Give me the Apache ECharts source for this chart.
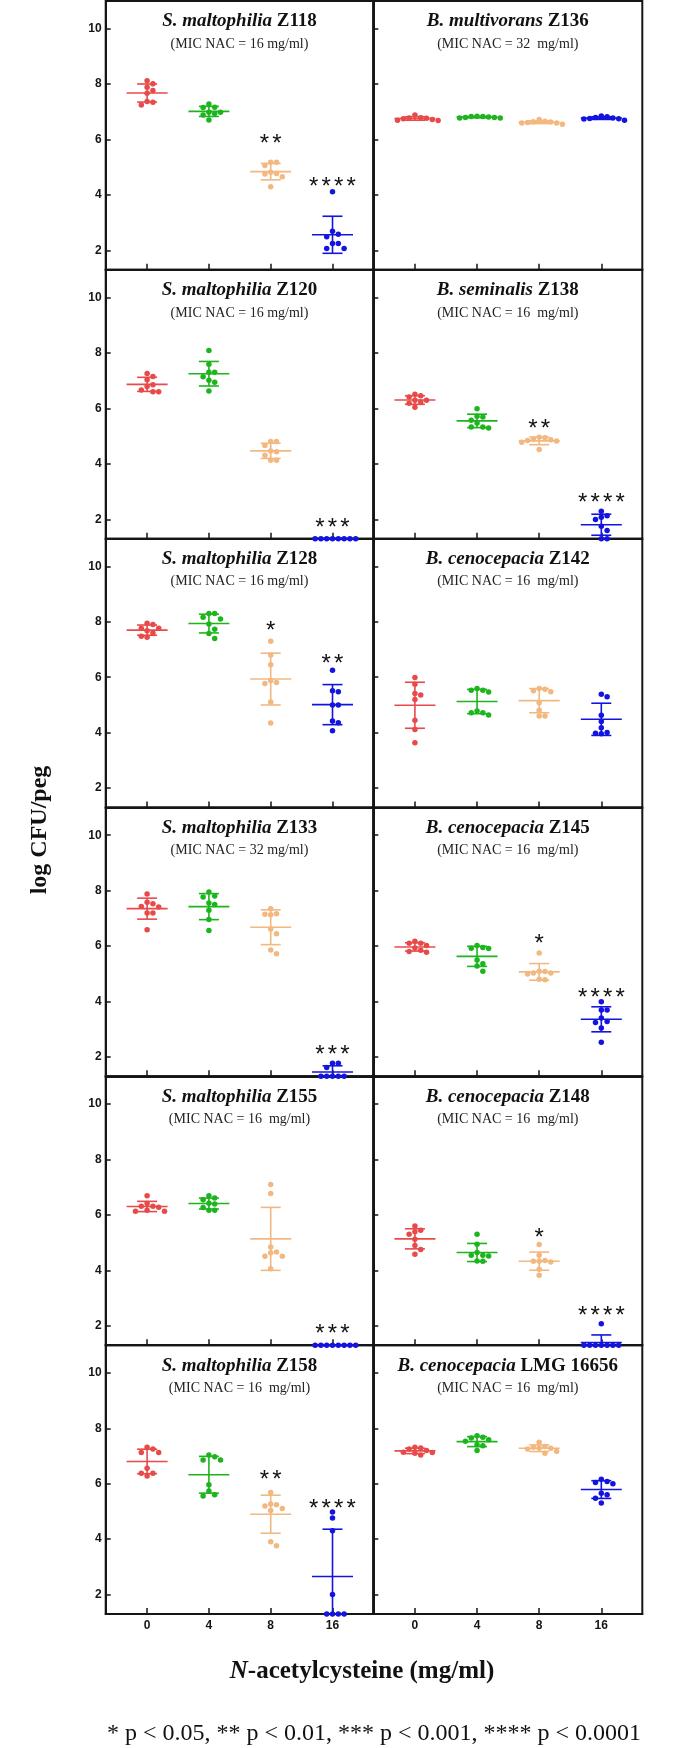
<!DOCTYPE html>
<html><head><meta charset="utf-8">
<script src="https://cdn.jsdelivr.net/npm/echarts@6/dist/echarts.min.js"></script>
<style>html,body{margin:0;padding:0;background:#fff}#c{width:700px;height:1748px}</style>
</head><body><div id="c"></div>
<script>
// ---------------- data ----------------
const doses = ['0', '4', '8', '16'];
const yTicks = [2, 4, 6, 8, 10];
const species = ['S. maltophilia', 'B. multivorans', 'S. maltophilia', 'B. seminalis', 'S. maltophilia', 'B. cenocepacia',
  'S. maltophilia', 'B. cenocepacia', 'S. maltophilia', 'B. cenocepacia', 'S. maltophilia', 'B. cenocepacia'];
const strains = ['Z118', 'Z136', 'Z120', 'Z138', 'Z128', 'Z142', 'Z133', 'Z145', 'Z155', 'Z148', 'Z158', 'LMG 16656'];
const micText = ['(MIC NAC = 16 mg/ml)', '(MIC NAC = 32  mg/ml)', '(MIC NAC = 16 mg/ml)', '(MIC NAC = 16  mg/ml)',
  '(MIC NAC = 16 mg/ml)', '(MIC NAC = 16  mg/ml)', '(MIC NAC = 32 mg/ml)', '(MIC NAC = 16  mg/ml)',
  '(MIC NAC = 16  mg/ml)', '(MIC NAC = 16  mg/ml)', '(MIC NAC = 16  mg/ml)', '(MIC NAC = 16  mg/ml)'];

// log CFU/peg per dose group (0, 4, 8, 16 mg/ml)
const Z118 = [[8.12, 8.01, 7.89, 7.77, 7.67, 7.37, 7.35, 7.25], [7.28, 7.17, 7.16, 6.99, 6.99, 6.94, 6.89, 6.71],
  [5.18, 5.18, 5.06, 4.82, 4.78, 4.76, 4.66, 4.30], [4.12, 2.69, 2.58, 2.49, 2.25, 2.25, 2.07, 2.07]];
const Z136 = [[6.89, 6.79, 6.78, 6.77, 6.75, 6.72, 6.70, 6.69], [6.84, 6.83, 6.83, 6.81, 6.80, 6.80, 6.78, 6.78],
  [6.72, 6.66, 6.64, 6.63, 6.62, 6.60, 6.60, 6.55], [6.85, 6.82, 6.80, 6.78, 6.76, 6.75, 6.74, 6.70]];
const Z120 = [[7.26, 7.15, 7.03, 6.85, 6.79, 6.66, 6.60, 6.60], [8.09, 7.59, 7.30, 7.30, 7.14, 7.02, 6.94, 6.63],
  [4.81, 4.81, 4.66, 4.46, 4.44, 4.31, 4.13, 4.13], [1.3, 1.3, 1.3, 1.3, 1.3, 1.3, 1.3, 1.3]];
const Z138 = [[6.51, 6.46, 6.41, 6.29, 6.29, 6.23, 6.19, 6.04], [5.99, 5.72, 5.69, 5.57, 5.47, 5.33, 5.33, 5.29],
  [4.96, 4.94, 4.90, 4.87, 4.84, 4.82, 4.78, 4.52], [2.29, 2.13, 2.07, 1.99, 1.75, 1.59, 1.3, 1.3]];
const Z128 = [[7.95, 7.90, 7.77, 7.77, 7.68, 7.60, 7.48, 7.44], [8.30, 8.30, 8.16, 8.10, 7.92, 7.73, 7.58, 7.40],
  [7.30, 6.80, 6.45, 5.88, 5.81, 5.77, 5.11, 4.35], [6.25, 5.51, 5.48, 5.00, 5.00, 4.42, 4.36, 4.07]];
const Z142 = [[5.99, 5.75, 5.41, 5.36, 5.20, 4.45, 4.11, 3.64], [5.59, 5.53, 5.53, 5.47, 4.78, 4.72, 4.72, 4.64],
  [5.59, 5.57, 5.51, 5.48, 5.08, 4.81, 4.60, 4.60], [5.39, 5.30, 4.63, 4.40, 4.18, 4.01, 3.98, 3.96]];
const Z133 = [[7.88, 7.58, 7.53, 7.43, 7.41, 7.19, 7.19, 6.59], [7.95, 7.81, 7.77, 7.55, 7.50, 7.29, 6.96, 6.56],
  [7.35, 7.17, 7.15, 7.13, 6.62, 6.44, 5.86, 5.72], [1.77, 1.77, 1.62, 1.3, 1.3, 1.3, 1.3, 1.3]];
const Z145 = [[6.17, 6.10, 6.10, 6.02, 5.93, 5.85, 5.80, 5.78], [6.02, 5.95, 5.92, 5.91, 5.50, 5.36, 5.28, 5.09],
  [5.75, 5.09, 5.08, 5.03, 5.03, 4.99, 4.80, 4.78], [3.99, 3.69, 3.69, 3.40, 3.28, 3.24, 3.04, 2.53]];
const Z155 = [[6.69, 6.41, 6.31, 6.31, 6.28, 6.17, 6.13, 6.13], [6.69, 6.61, 6.55, 6.42, 6.39, 6.27, 6.17, 6.17],
  [7.10, 6.77, 4.84, 4.66, 4.63, 4.51, 4.51, 4.06], [1.3, 1.3, 1.3, 1.3, 1.3, 1.3, 1.3, 1.3]];
const Z148 = [[5.60, 5.45, 5.39, 5.30, 5.12, 4.90, 4.75, 4.58], [5.30, 4.94, 4.64, 4.54, 4.54, 4.52, 4.34, 4.33],
  [4.93, 4.54, 4.35, 4.33, 4.33, 4.30, 4.04, 3.82], [2.07, 1.3, 1.3, 1.3, 1.3, 1.3, 1.3, 1.3]];
const Z158 = [[7.32, 7.25, 7.13, 7.13, 6.56, 6.38, 6.38, 6.28], [7.04, 6.97, 6.86, 6.86, 5.96, 5.74, 5.60, 5.56],
  [5.68, 5.27, 5.24, 5.20, 5.11, 5.03, 3.91, 3.76], [4.98, 4.76, 4.30, 2.00, 1.3, 1.3, 1.3, 1.3]];
const LMG16656 = [[7.32, 7.29, 7.25, 7.20, 7.14, 7.13, 7.10, 7.04], [7.73, 7.68, 7.65, 7.59, 7.53, 7.41, 7.37, 7.20],
  [7.50, 7.34, 7.32, 7.29, 7.28, 7.25, 7.17, 7.10], [6.16, 6.08, 6.04, 6.00, 5.66, 5.60, 5.48, 5.30]];

const panels = [Z118, Z136, Z120, Z138, Z128, Z142, Z133, Z145, Z155, Z148, Z158, LMG16656];

// significance marks per dose group and the log level they sit at
const stars = [['', '', '**', '****'], ['', '', '', ''], ['', '', '', '***'], ['', '', '**', '****'],
  ['', '', '*', '**'], ['', '', '', ''], ['', '', '', '***'], ['', '', '*', '****'],
  ['', '', '', '***'], ['', '', '*', '****'], ['', '', '**', '****'], ['', '', '', '']];
const starLevel = [[0, 0, 6.08, 4.51], [0, 0, 0, 0], [0, 0, 0, 1.94], [0, 0, 5.48, 2.83],
  [0, 0, 7.92, 6.73], [0, 0, 0, 0], [0, 0, 0, 2.32], [0, 0, 6.30, 4.35],
  [0, 0, 0, 1.95], [0, 0, 5.41, 2.59], [0, 0, 6.36, 5.32], [0, 0, 0, 0]];

// ---------------- layout / style ----------------
const Y_MIN = 1.3, Y_MAX = 11, X_MIN = -0.67, X_MAX = 3.66;
const ROW_TOP = 1, ROW_H = 268.83;
const COL_LEFT = [105.7, 373.3], COL_W = [267.6, 269];
const colors = ['#e84a4a', '#1db51d', '#f2b880', '#1414e0'];
const INK = '#151515';
const STAR_PITCH = 12.5;

function meanSd(a) {
  const m = a.reduce((s, v) => s + v, 0) / a.length;
  const v = a.reduce((s, x) => s + (x - m) * (x - m), 0) / (a.length - 1);
  return [m, Math.sqrt(v)];
}
// simple beeswarm: pixel offsets so dots do not overlap
function swarm(vals, yPx) {
  const d = 5.8, step = 5.8;
  const order = vals.map((v, i) => i).sort((a, b) => vals[b] - vals[a]);
  const placed = [], offs = new Array(vals.length).fill(0);
  for (const i of order) {
    const y = vals[i] * yPx;
    for (let k = 0; k < 40; k++) {
      const cand = (k === 0 ? 0 : (k % 2 ? 1 : -1) * Math.ceil(k / 2)) * step;
      if (placed.every(p => (p[0] - cand) ** 2 + (p[1] - y) ** 2 >= d * d - 1e-6)) {
        offs[i] = cand; placed.push([cand, y]); break;
      }
    }
  }
  return offs;
}

const grid = [], xAxis = [], yAxis = [], series = [], title = [];
panels.forEach((groups, i) => {
  const r = Math.floor(i / 2), c = i % 2;
  const top = ROW_TOP + r * ROW_H, left = COL_LEFT[c], w = COL_W[c];
  const xPx = w / (X_MAX - X_MIN), yPx = ROW_H / (Y_MAX - Y_MIN);
  grid.push({ left, top, width: w, height: ROW_H, show: true, borderColor: INK, borderWidth: 2, backgroundColor: 'transparent' });
  xAxis.push({
    type: 'value', gridIndex: i, min: X_MIN, max: X_MAX,
    axisLine: { show: true, onZero: false, lineStyle: { color: INK, width: 2 } },
    axisTick: { show: true, inside: true, length: 6, customValues: [0, 1, 2, 3], lineStyle: { color: INK, width: 1.5 } },
    axisLabel: { show: r === 5, customValues: [0, 1, 2, 3], margin: 6, formatter: v => doses[Math.round(v)],
      fontFamily: 'Liberation Sans', fontWeight: 'bold', fontSize: 12, color: INK },
    splitLine: { show: false }
  });
  yAxis.push({
    type: 'value', gridIndex: i, min: Y_MIN, max: Y_MAX,
    axisLine: { show: true, onZero: false, lineStyle: { color: INK, width: 2 } },
    axisTick: { show: true, inside: true, length: 5, customValues: yTicks, lineStyle: { color: INK, width: 1.5 } },
    axisLabel: { show: c === 0, customValues: yTicks, margin: 4,
      fontFamily: 'Liberation Sans', fontWeight: 'bold', fontSize: 12, color: INK },
    splitLine: { show: false }
  });
  title.push({
    text: '{i|' + species[i] + '} {b|' + strains[i] + '}', subtext: micText[i],
    left: left + w / 2, top: top + 11, textAlign: 'center', padding: 0, itemGap: 6,
    textStyle: { fontFamily: 'Liberation Serif', fontWeight: 'bold', fontSize: 19, color: '#111',
      rich: { i: { fontFamily: 'Liberation Serif', fontStyle: 'italic', fontWeight: 'bold', fontSize: 19, color: '#111' },
              b: { fontFamily: 'Liberation Serif', fontWeight: 'bold', fontSize: 19, color: '#111' } } },
    subtextStyle: { fontFamily: 'Liberation Serif', fontSize: 14, color: '#222' }
  });
  groups.forEach((vals, g) => {
    const offs = swarm(vals, yPx);
    series.push({
      type: 'scatter', xAxisIndex: i, yAxisIndex: i, symbolSize: 5.5, clip: false, silent: true,
      itemStyle: { color: colors[g], opacity: 1 }, z: 2,
      data: vals.map((v, k) => [g + offs[k] / xPx, v])
    });
  });
  const stats = groups.map((vals, g) => { const ms = meanSd(vals); return [g, ms[0], ms[1]]; });
  series.push({
    type: 'custom', xAxisIndex: i, yAxisIndex: i, silent: true, z: 3, data: stats,
    renderItem: (params, api) => {
      const g = api.value(0), m = api.value(1), s = api.value(2);
      const st = { stroke: colors[g], lineWidth: 1.6 };
      const pm = api.coord([g, m]);
      const ph = api.coord([g, Math.min(m + s, Y_MAX)]);
      const pl = api.coord([g, Math.max(m - s, Y_MIN)]);
      const ch = [
        { type: 'line', shape: { x1: pm[0] - 20.5, y1: pm[1], x2: pm[0] + 20.5, y2: pm[1] }, style: st },
        { type: 'line', shape: { x1: ph[0], y1: ph[1], x2: pl[0], y2: pl[1] }, style: st }
      ];
      if (m + s <= Y_MAX) ch.push({ type: 'line', shape: { x1: ph[0] - 10, y1: ph[1], x2: ph[0] + 10, y2: ph[1] }, style: st });
      if (m - s >= Y_MIN - 1e-9) ch.push({ type: 'line', shape: { x1: pl[0] - 10, y1: pl[1], x2: pl[0] + 10, y2: pl[1] }, style: st });
      return { type: 'group', children: ch };
    }
  });
  const starData = [];
  stars[i].forEach((s, g) => { if (s) starData.push([g, starLevel[i][g]]); });
  const starCount = stars[i].filter(s => s).map(s => s.length);
  if (starData.length) {
    series.push({
      type: 'custom', xAxisIndex: i, yAxisIndex: i, silent: true, z: 4, data: starData,
      renderItem: (params, api) => {
        const p = api.coord([api.value(0), api.value(1)]);
        const n = starCount[params.dataIndex];
        const kids = [];
        for (let k = 0; k < n; k++) {
          kids.push({ type: 'text', x: p[0] + (k - (n - 1) / 2) * STAR_PITCH, y: p[1] + 7,
            style: { text: '*', fill: '#111', font: '24px "Liberation Sans"', align: 'center', verticalAlign: 'middle' } });
        }
        return { type: 'group', children: kids };
      }
    });
  }
});

const chart = echarts.init(document.getElementById('c'), null, { renderer: 'canvas' });
chart.setOption({
  animation: false, backgroundColor: '#fff',
  grid, xAxis, yAxis, series, title,
  graphic: [
    { type: 'text', x: 362, y: 1672, style: { text: '{i|N}-acetylcysteine (mg/ml)', fill: '#111',
        font: 'bold 25px "Liberation Serif"', align: 'center', verticalAlign: 'middle',
        rich: { i: { fontFamily: 'Liberation Serif', fontStyle: 'italic', fontWeight: 'bold', fontSize: 25, fill: '#111' } } } },
    { type: 'text', x: 40, y: 830, rotation: Math.PI / 2, style: { text: 'log CFU/peg', fill: '#111',
        font: 'bold 24px "Liberation Serif"', align: 'center', verticalAlign: 'middle' } },
    { type: 'text', x: 374, y: 1734, style: { text: '* p < 0.05, ** p < 0.01, *** p < 0.001, **** p < 0.0001', fill: '#111',
        font: '24px "Liberation Serif"', align: 'center', verticalAlign: 'middle' } }
  ]
});
</script></body></html>
